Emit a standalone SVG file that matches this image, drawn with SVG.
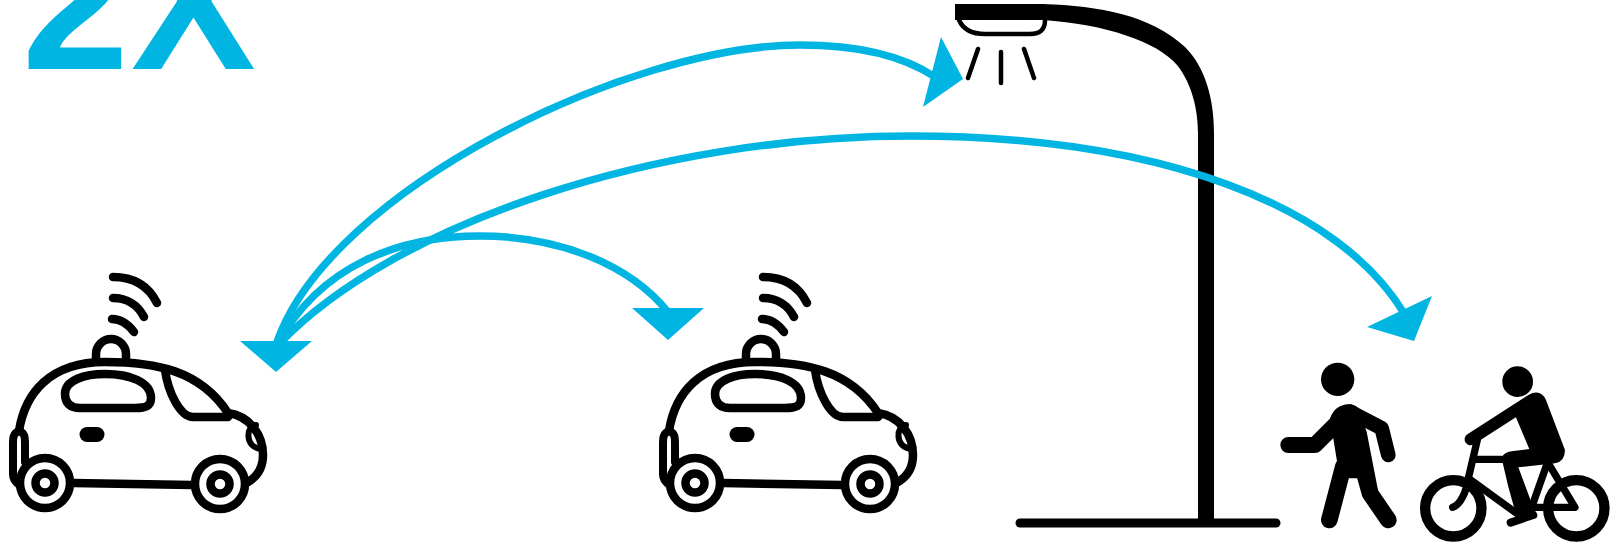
<svg xmlns="http://www.w3.org/2000/svg" width="1624" height="545" viewBox="0 0 1624 545">
<style>
.b{fill:none;stroke:#000;stroke-linecap:round;stroke-linejoin:round}
.k{fill:#000}
.c{fill:none;stroke:#00b5e2;stroke-width:7.5}
.h{fill:#00b5e2}
.logo{font-family:"Liberation Sans",Arial,sans-serif;font-weight:700;fill:#00b5e2}
</style>
<defs>
<g id="car">
<g class="b" stroke-width="8.5">
<path d="M19 431C25 393 50 362 105 362C155 362 200 370 228 413C250 416 263 435 263 455C263 468 258 476 248 482"/>
<path d="M73 483L192 485"/>
<path d="M165 370C168 392 180 417 193 417H228"/>
<path d="M96 358V354A15 15 0 0 1 126 354V358"/>
<path d="M65 394C65 380 85 374 105 374C130 374 151 382 151 398C151 406 146 408 135 408H80C70 408 65 403 65 394Z"/>
<path d="M256 425C246 425 244 448 262 449" stroke-width="6"/>
<path d="M19 431C13 433 13 438 13 445V474C13 479 15 481 18 484M19 431C25 433 25 437 25 445V462" stroke-width="8"/>
<path d="M113 277C132 277 148 285 157 303M113 298C127 298 138 305 144 317M112 319C120 319 128 324 134 332"/>
<path d="M87 434.5H97" stroke-width="15"/>
</g>
<g fill="#fff" stroke="#000" stroke-width="8.5">
<circle cx="45" cy="483" r="25"/><circle cx="45" cy="483" r="9.5"/>
<circle cx="220" cy="484" r="25"/><circle cx="220" cy="484" r="9.5"/>
</g>
</g>
</defs>
<g id="logo"><text class="logo" font-size="192" x="22" y="69">2</text><text class="logo" font-size="187" x="131" y="69">X</text></g>
<g id="lamp">
<path class="k" d="M955 4H1043C1100 6 1150 15 1185 47C1205 67 1214 98 1214 133V523H1198V133C1198 112 1193 85 1177 65C1158 42 1105 24 1043 20H955Z"/>
<path class="b" stroke-width="9" d="M1020 523H1276"/>
<path class="b" stroke-width="4.5" d="M959 20C963 29 972 34 985 34H1030C1040 34 1045 30 1045 20M978 49L968 78M1001 52V83M1024 49L1034 78"/>
</g>
<g id="connectors">
<path class="c" d="M277 342C330 190 630 45 800 45C860 45 905 57 935 77"/>
<path class="c" d="M278 345C395 222 660 136 910 136C1160 136 1340 205 1405 315"/>
<path class="c" d="M277 345C320 265 400 236 480 236C560 236 630 265 668 312"/>
<polygon class="h" points="240,341 312,341 276,372"/>
<polygon class="h" points="632,308 704,308 668,340"/>
<polygon class="h" points="963,79 941,37 923,107"/>
<polygon class="h" points="1432,296 1414,341 1367,327"/>
</g>
<g id="car1"><use href="#car"/></g>
<g id="car2"><use href="#car" x="650"/></g>
<g id="pedestrian" transform="translate(1260 350) scale(.3333)">
<circle class="k" cx="233" cy="88" r="50"/>
<path class="b" stroke-width="48" d="M85 285H165L225 225"/>
<path class="b" stroke-width="44" d="M270 185L365 235L385 315"/>
<path class="b" stroke-width="50" d="M208 510L250 350M385 510L330 430L305 340"/>
<path class="k" d="M210 205Q225 165 265 163Q285 163 295 175L320 245L355 425L305 385H268L232 340Z"/>
</g>
<g id="cyclist" transform="translate(1260 350) scale(.3333)">
<circle class="k" cx="773" cy="95" r="46"/>
<g class="b">
<circle cx="580" cy="475" r="84.5" stroke-width="31"/>
<circle cx="949" cy="475" r="84.5" stroke-width="31"/>
<path stroke-width="36" d="M632 268L815 150"/>
<path stroke-width="22" d="M652 270L625 385L770 490M650 328H730M865 340L945 472H815L860 345M625 385C618 430 600 465 578 472"/>
<path stroke-width="24" d="M752 518L820 495"/>
</g>
<path class="k" d="M770 170L815 130Q845 120 858 150L915 300Q915 335 885 340L775 352L808 440L828 500L770 500L745 410L725 325Q730 305 760 303L808 297L765 195Z"/>
</g>
</svg>
